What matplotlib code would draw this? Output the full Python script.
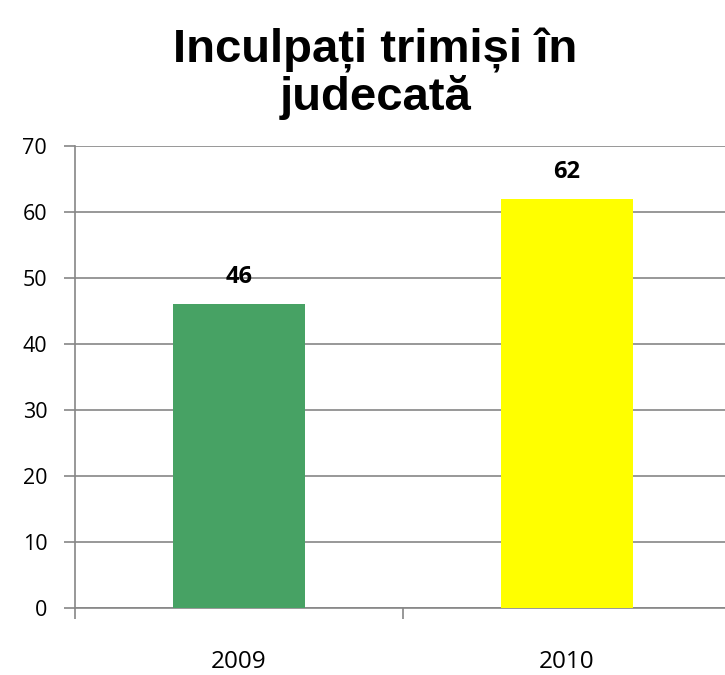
import matplotlib
matplotlib.use('Agg')
import matplotlib.pyplot as plt

ani = ['2009', '2010']
inculpati = [46, 62]
culori = ['#47A264', '#FFFF00']

fig = plt.figure(figsize=(7.25, 6.75), dpi=100)
ax = fig.add_axes([75/725, 1 - 608/675, 656/725, (608 - 146)/675])

x = [0, 1]
ax.bar(x, inculpati, width=0.4, color=culori, zorder=3)
for xi, v in zip(x, inculpati):
    ax.text(xi, v + 2.3, str(v), ha='center', va='bottom', fontsize=17,
            fontweight='bold', family='Open Sans')

ax.set_xlim(-0.5, 1.5)
ax.set_ylim(0, 70)
ax.set_yticks(range(0, 71, 10))
ax.yaxis.grid(True, color='#868686', linewidth=1.2, zorder=0)
ax.set_xticks(x)
ax.set_xticklabels(ani, family='Open Sans', fontsize=17.5)
ax.set_xticks([-0.5, 0.5, 1.5], minor=True)
ax.tick_params(axis='x', which='major', length=0, pad=30)
ax.tick_params(axis='x', which='minor', length=8, color='#868686', width=1.2)
ax.tick_params(axis='y', length=8, color='#868686', width=1.2, pad=12)
for lbl in ax.get_yticklabels():
    lbl.set_family('Open Sans')
    lbl.set_fontsize(15.5)
for s in ['top', 'right']:
    ax.spines[s].set_visible(False)
for s in ['left', 'bottom']:
    ax.spines[s].set_color('#868686')
    ax.spines[s].set_linewidth(1.2)

fig.text(0.518, 0.89, 'Inculpați trimiși în\njudecată', ha='center', va='center',
         fontsize=34, fontweight='bold', family='Liberation Sans', linespacing=1.05)

fig.savefig('out.png', dpi=100)
